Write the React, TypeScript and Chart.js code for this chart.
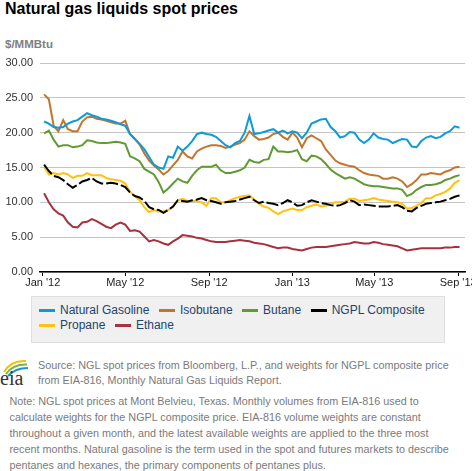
import React, { useEffect, useRef } from "react";
import { Chart, registerables } from "chart.js";

Chart.register(...registerables);

// Weekly samples starting on this date
const startDate = "2012-01-03";
const stepDays = 7;

const naturalGasoline = [
  21.6, 21.3, 20.8, 20.7, 20.8, 21.3, 21.6, 21.8, 22.3, 22.8, 22.5, 22.3, 22.0, 21.9, 21.7, 21.5, 21.2, 21.0, 19.8, 19.1, 18.4, 17.6,
  16.5, 15.4, 15.0, 14.8, 16.6, 16.4, 18.0, 17.4, 18.0, 18.8, 19.8, 20.0, 19.8, 19.7, 19.4, 18.8, 18.2, 17.9, 18.5, 18.8, 20.0, 22.4, 19.8,
  19.9, 20.1, 20.3, 20.5, 20.0, 20.3, 19.9, 20.2, 20.0, 19.2, 20.0, 21.3, 21.6, 21.9, 22.0, 20.8, 20.2, 19.3, 19.5, 20.1, 20.0, 19.0,
  18.5, 19.0, 19.9, 19.3, 19.1, 19.0, 18.5, 18.8, 19.1, 19.0, 18.0, 17.9, 18.8, 19.3, 19.5, 19.2, 19.4, 19.9, 20.2, 20.9, 20.7,
];
const isobutane = [
  25.5, 24.8, 21.0, 20.2, 21.8, 20.5, 20.2, 20.2, 21.6, 22.2, 22.3, 22.0, 21.9, 21.7, 21.5, 21.3, 21.3, 21.7, 19.8, 19.1, 18.3, 17.0,
  16.0, 15.3, 14.7, 14.0, 14.5, 15.3, 16.1, 17.3, 16.6, 16.3, 17.3, 17.7, 18.0, 18.2, 18.2, 18.1, 17.8, 18.0, 18.3, 18.5, 19.0, 20.2, 19.5,
  19.0, 19.1, 19.3, 19.8, 20.0, 19.4, 19.0, 20.0, 19.3, 17.9, 19.2, 19.6, 19.2, 18.8, 17.6, 16.8, 16.0, 15.6, 15.4, 15.2, 15.1, 14.6,
  14.2, 14.0, 13.9, 13.8, 13.4, 13.4, 13.6, 13.4, 13.0, 12.2, 12.6, 13.2, 14.0, 14.0, 14.2, 14.1, 14.0, 14.4, 14.6, 15.0, 15.1,
];
const butane = [
  19.9, 20.3, 19.0, 18.0, 18.2, 18.2, 17.9, 18.0, 18.2, 18.9, 18.8, 18.6, 18.5, 18.5, 18.6, 18.7, 18.6, 18.4, 16.6, 16.3, 15.9, 14.8,
  14.4, 14.0, 12.9, 11.4, 12.0, 12.7, 13.4, 13.0, 12.8, 13.8, 14.6, 15.1, 15.1, 15.1, 15.4, 14.6, 14.2, 14.2, 14.4, 14.6, 15.0, 16.1, 15.8,
  15.7, 16.1, 16.2, 18.0, 17.3, 17.3, 17.2, 17.3, 17.5, 16.2, 15.9, 16.7, 16.6, 16.2, 15.5, 14.7, 14.2, 13.8, 13.4, 13.6, 13.4, 13.0,
  12.6, 12.4, 12.3, 12.3, 12.2, 12.1, 12.0, 12.0, 11.8, 10.9, 11.2, 11.8, 12.2, 12.5, 12.5, 12.6, 12.8, 13.2, 13.4, 13.7, 13.9,
];
const ngplComposite = [
  15.4, 14.5, 13.8, 13.6, 13.2, 12.6, 12.1, 12.5, 13.0, 13.2, 13.5, 13.0, 12.7, 12.7, 12.8, 12.7, 12.5, 12.2, 11.4, 10.9, 10.7, 10.2,
  9.3, 9.0, 8.9, 8.5, 8.9, 9.4, 10.3, 10.2, 10.1, 10.3, 10.4, 10.6, 10.3, 10.2, 10.0, 9.8, 10.0, 10.1, 10.2, 10.4, 10.6, 10.8, 10.3,
  9.9, 10.1, 9.9, 9.8, 9.6, 9.9, 10.3, 10.0, 9.5, 9.6, 10.0, 10.3, 10.1, 9.9, 9.8, 9.6, 9.5, 9.6, 9.9, 10.3, 10.1, 9.6,
  9.7, 9.6, 9.5, 9.4, 9.4, 9.4, 9.5, 9.6, 9.3, 8.8, 8.7, 9.2, 9.5, 9.8, 9.9, 10.0, 10.1, 10.3, 10.5, 10.8, 11.0,
];
const propane = [
  15.1, 14.0, 14.2, 14.0, 14.2, 14.0, 13.5, 13.8, 13.8, 14.2, 13.9, 13.9, 13.9, 13.5, 13.3, 13.2, 13.1, 12.7, 11.5, 10.9, 10.3, 9.3,
  8.6, 8.9, 8.7, 8.7, 8.9, 9.4, 10.3, 10.5, 10.2, 10.2, 10.2, 10.0, 9.5, 10.6, 10.6, 10.0, 10.0, 10.3, 10.6, 10.8, 10.9, 11.0, 10.4,
  9.8, 9.4, 9.2, 8.7, 8.3, 8.7, 8.9, 9.1, 8.9, 8.9, 9.3, 9.5, 9.7, 9.4, 9.5, 9.8, 10.0, 10.0, 10.1, 10.5, 10.5, 10.2,
  10.3, 10.4, 10.6, 10.4, 10.3, 10.2, 10.1, 10.0, 9.8, 9.1, 9.2, 9.5, 9.9, 10.6, 10.6, 11.0, 11.2, 11.5, 12.0, 12.8, 13.2,
];
const ethane = [
  11.3, 10.0, 9.0, 8.4, 8.1, 7.1, 6.5, 6.4, 7.1, 7.2, 7.6, 7.3, 6.9, 6.5, 6.3, 6.8, 7.1, 6.8, 5.9, 6.0, 5.8, 5.1,
  4.4, 4.6, 4.4, 4.1, 3.9, 4.4, 4.8, 5.3, 5.2, 5.1, 4.9, 4.8, 4.6, 4.4, 4.3, 4.3, 4.3, 4.4, 4.5, 4.6, 4.5, 4.4, 4.2,
  4.1, 4.0, 3.8, 3.6, 3.4, 3.5, 3.5, 3.3, 3.2, 3.1, 3.3, 3.5, 3.6, 3.6, 3.6, 3.7, 3.8, 3.9, 4.0, 4.1, 4.3, 4.2,
  4.1, 4.1, 4.3, 4.2, 4.0, 3.9, 3.8, 3.7, 3.4, 3.1, 3.2, 3.3, 3.4, 3.4, 3.4, 3.4, 3.4, 3.5, 3.5, 3.6, 3.6,
];

const tickDates = ["2012-01-01", "2012-05-01", "2012-09-01", "2013-01-01", "2013-05-01", "2013-09-01"];
const tickLabels = ["Jan '12", "May '12", "Sep '12", "Jan '13", "May '13", "Sep '13"];
const axisStart = "2011-12-28";
const axisEnd = "2013-09-11";

const seriesNames = ["Natural Gasoline", "Isobutane", "Butane", "NGPL Composite", "Propane", "Ethane"];
const seriesColors = ["#0d9ad8", "#c0762f", "#5f9a33", "#000000", "#ffc20e", "#a5323e"];
const seriesValues = [naturalGasoline, isobutane, butane, ngplComposite, propane, ethane];

const DAY = 86400000;
const origin = Date.UTC(2012, 0, 1);
const toDay = (s: string) => {
  const [y, m, d] = s.split("-").map(Number);
  return (Date.UTC(y, m - 1, d) - origin) / DAY;
};

const FONT = "'Liberation Sans', Arial, sans-serif";

function ChartCanvas() {
  const ref = useRef<HTMLCanvasElement | null>(null);
  useEffect(() => {
    if (!ref.current) return;
    const start = toDay(startDate);
    const tickDays = tickDates.map(toDay);
    const datasets = seriesValues.map((vals, i) => ({
      label: seriesNames[i],
      data: vals.map((v, k) => ({ x: start + k * stepDays, y: v })),
      borderColor: seriesColors[i],
      backgroundColor: seriesColors[i],
      borderWidth: 2,
      pointRadius: 0,
      tension: 0,
      borderDash: i === 3 ? [12, 3] : [],
      order: i === 4 ? 2 : i === 3 ? 1 : 3,
    }));
    const chart = new Chart(ref.current, {
      type: "line",
      data: { datasets },
      options: {
        animation: false,
        responsive: false,
        layout: { padding: { top: 8, right: 7, left: 0, bottom: 0 } },
        plugins: { legend: { display: false }, tooltip: { enabled: false } },
        scales: {
          x: {
            type: "linear",
            min: toDay(axisStart),
            max: toDay(axisEnd),
            afterBuildTicks: (scale: any) => {
              scale.ticks = tickDays.map((v) => ({ value: v }));
            },
            afterFit: (scale: any) => {
              scale.height = 23;
              scale.paddingLeft = 0;
              scale.paddingRight = 0;
            },
            ticks: {
              autoSkip: false,
              maxRotation: 0,
              padding: 0,
              color: "#222",
              font: { family: FONT, size: 11 },
              callback: (v: any) => {
                const idx = tickDays.indexOf(Number(v));
                return idx >= 0 ? tickLabels[idx] : "";
              },
            },
            grid: { drawOnChartArea: false, drawTicks: true, tickLength: 4, color: "#000" },
            border: { color: "#000", width: 1.5 },
          },
          y: {
            min: 0,
            max: 30,
            afterFit: (scale: any) => {
              scale.width = 40;
              scale.paddingTop = 0;
              scale.paddingBottom = 0;
            },
            ticks: {
              stepSize: 5,
              padding: 7,
              color: "#333",
              font: { family: FONT, size: 11 },
              callback: (v: any) => Number(v).toFixed(2),
            },
            grid: { color: "#c4c4c4", drawTicks: false, lineWidth: 1 },
            border: { display: false },
          },
        },
      },
    });
    return () => chart.destroy();
  }, []);
  return <canvas ref={ref} width={472} height={240} style={{ position: "absolute", left: 0, top: 55, width: 472, height: 240 }} />;
}

function LegendItem({ name, color }: { name: string; color: string }) {
  return (
    <span style={{ display: "inline-flex", alignItems: "center", marginRight: 9.5, whiteSpace: "nowrap" }}>
      <span style={{ display: "inline-block", width: 16, height: 3, background: color, marginRight: 5 }} />
      <span>{name}</span>
    </span>
  );
}

function Logo() {
  return (
    <svg width={34} height={36} style={{ position: "absolute", left: 0, top: 355 }} viewBox="0 0 34 36">
      <path d="M 4 17 Q 11 5 26 6" stroke="#f4c300" strokeWidth={2} fill="none" />
      <path d="M 6 19 Q 13 9 27 9.5" stroke="#74b442" strokeWidth={2} fill="none" />
      <path d="M 8 21 Q 15 13 28 13" stroke="#1a96d4" strokeWidth={2} fill="none" />
      <text x={0} y={30} fontFamily="'Liberation Serif', 'DejaVu Serif', serif" fontSize={20} fill="#333">eia</text>
    </svg>
  );
}

export default function App() {
  const rows = [
    [0, 1, 2, 3],
    [4, 5],
  ];
  return (
    <div style={{ position: "absolute", left: 0, top: 0, width: 472, height: 471, background: "#fff", overflow: "hidden", fontFamily: FONT }}>
      <div style={{ position: "absolute", left: 5, top: 0, fontSize: 16, fontWeight: "bold", lineHeight: "18px", color: "#000", whiteSpace: "nowrap" }}>
        Natural gas liquids spot prices
      </div>
      <div style={{ position: "absolute", left: 5, top: 38, fontSize: 11.5, fontWeight: "bold", lineHeight: "13px", color: "#808080" }}>
        $/MMBtu
      </div>
      <ChartCanvas />
      <div
        style={{
          position: "absolute",
          left: 31,
          top: 296,
          width: 405,
          height: 39,
          background: "#f0f0f0",
          border: "1px solid #dedede",
          paddingTop: 5.5,
          paddingLeft: 7,
          boxSizing: "content-box",
          fontSize: 12,
          lineHeight: "15px",
          color: "#1f446b",
        }}
      >
        {rows.map((r, ri) => (
          <div key={ri} style={{ display: "flex", height: 15, alignItems: "center" }}>
            {r.map((i) => (
              <LegendItem key={i} name={seriesNames[i]} color={seriesColors[i]} />
            ))}
          </div>
        ))}
      </div>
      <Logo />
      <div style={{ position: "absolute", left: 38, top: 357.7, fontSize: 10.8, lineHeight: "15px", color: "#7a7a7a", whiteSpace: "nowrap" }}>
        Source: NGL spot prices from Bloomberg, L.P., and weights for NGPL composite price
        <br />
        from EIA-816, Monthly Natural Gas Liquids Report.
      </div>
      <div style={{ position: "absolute", left: 9.5, top: 393.9, fontSize: 10.8, lineHeight: "15.9px", color: "#7a7a7a", whiteSpace: "nowrap" }}>
        Note: NGL spot prices at Mont Belvieu, Texas. Monthly volumes from EIA-816 used to
        <br />
        calculate weights for the NGPL composite price. EIA-816 volume weights are constant
        <br />
        throughout a given month, and the latest available weights are applied to the three most
        <br />
        recent months. Natural gasoline is the term used in the spot and futures markets to describe
        <br />
        pentanes and hexanes, the primary components of pentanes plus.
      </div>
    </div>
  );
}
